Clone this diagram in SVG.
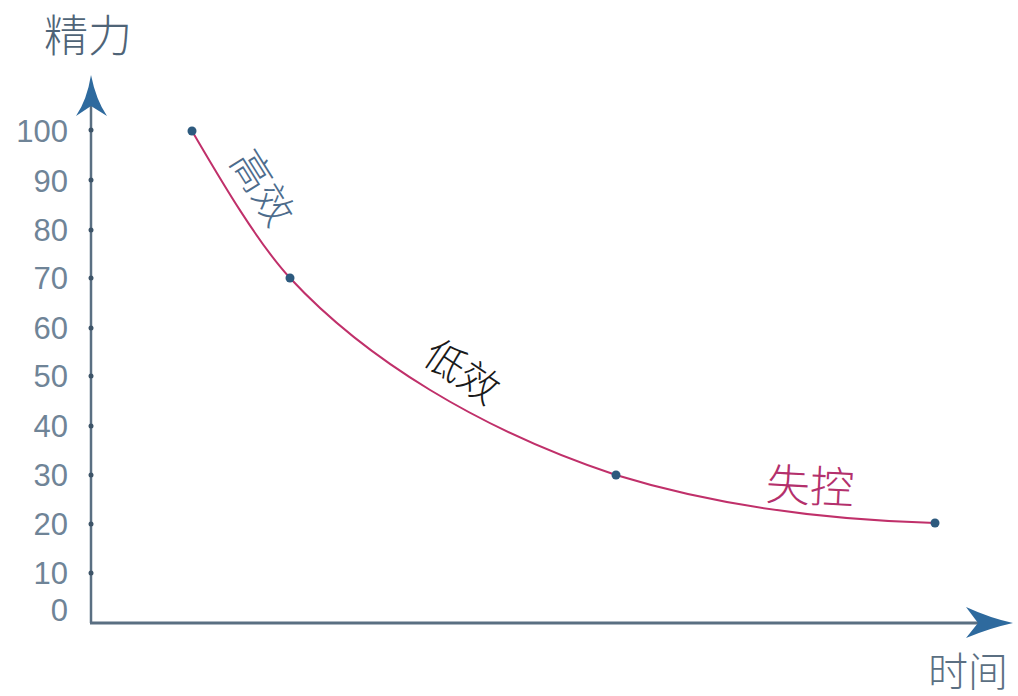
<svg xmlns="http://www.w3.org/2000/svg" width="1018" height="696" viewBox="0 0 1018 696">
<style>
.num{font-family:"Liberation Sans",Arial,sans-serif;font-size:31px;fill:#6f8497;text-anchor:end}
.cj{font-family:"Noto Sans CJK SC",sans-serif;font-weight:300}
.tick{fill:#3d5468}
.dot{fill:#2d5a7e}
</style>
<rect width="1018" height="696" fill="#ffffff"/>
<g id="axes">
<line x1="91" y1="623" x2="91" y2="100" stroke="#5a6f82" stroke-width="2.5"/>
<line x1="90" y1="623" x2="985" y2="623" stroke="#5a6f82" stroke-width="3"/>
<path d="M91,75 Q87,100 76,116 L91,106 L107,116 Q96,100 91,75 Z" fill="#2e6a9e"/>
<path d="M1013,623 Q990,618 966,607 L978,623 L966,638 Q990,628 1013,623 Z" fill="#2e6a9e"/>
<g class="tick">
<circle cx="91" cy="130" r="2.5"/><circle cx="91" cy="180" r="2.5"/><circle cx="91" cy="230" r="2.5"/><circle cx="91" cy="278" r="2.5"/><circle cx="91" cy="328" r="2.5"/><circle cx="91" cy="376" r="2.5"/><circle cx="91" cy="426" r="2.5"/><circle cx="91" cy="475" r="2.5"/><circle cx="91" cy="524" r="2.5"/><circle cx="91" cy="573" r="2.5"/>
</g>
</g>
<g id="ticklabels">
<text class="num" x="68" y="142">100</text>
<text class="num" x="68" y="192">90</text>
<text class="num" x="68" y="241">80</text>
<text class="num" x="68" y="289">70</text>
<text class="num" x="68" y="339">60</text>
<text class="num" x="68" y="387">50</text>
<text class="num" x="68" y="437">40</text>
<text class="num" x="68" y="486">30</text>
<text class="num" x="68" y="535">20</text>
<text class="num" x="68" y="584">10</text>
<text class="num" x="68" y="621">0</text>
</g>
<g id="axis-titles">
<text class="cj" x="44" y="52" font-size="44" fill="#4f6477">精力</text>
<text class="cj" x="928" y="686" font-size="40" fill="#5b6f82">时间</text>
</g>
<g id="connectors">
<path d="M192,131 C215,170 255,240 290,278 C365,359 480,430 616,475 C720,507 830,520 935,523" fill="none" stroke="#c0306a" stroke-width="2"/>
</g>
<g id="points">
<circle class="dot" cx="192" cy="131" r="4.5"/>
<circle class="dot" cx="290" cy="278" r="4.5"/>
<circle class="dot" cx="616" cy="475" r="4.5"/>
<circle class="dot" cx="935" cy="523" r="4.5"/>
</g>
<g id="labels">
<text class="cj" font-size="40" fill="#4d6c8c" text-anchor="middle" transform="translate(262,188) rotate(58)" dy="14">高效</text>
<text class="cj" font-size="40" fill="#1a1a1a" text-anchor="middle" transform="translate(462,372) rotate(34)" dy="14">低效</text>
<text class="cj" font-size="44" fill="#b4306c" text-anchor="middle" transform="translate(810,487) rotate(3)" dy="15">失控</text>
</g>
</svg>
